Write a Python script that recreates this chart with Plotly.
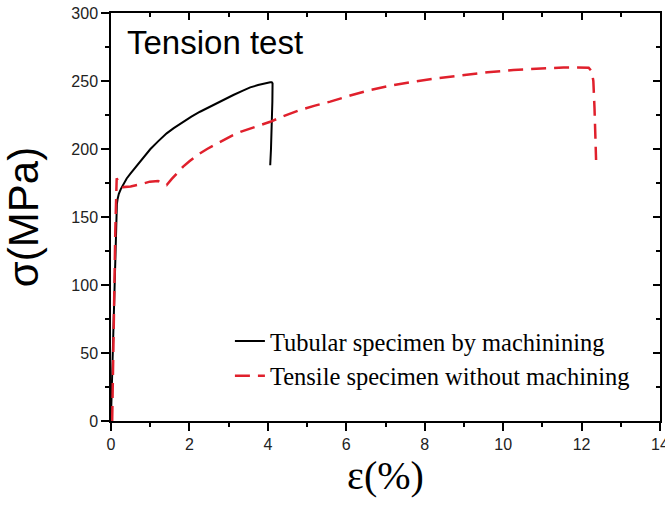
import plotly.graph_objects as go

# Tubular specimen by machining (solid black)
tub_strain = [0.0, 0.03, 0.06, 0.09, 0.12, 0.135, 0.15, 0.17, 0.20, 0.25, 0.30, 0.35, 0.40, 0.50, 0.60,
              0.70, 0.80, 0.90, 1.00, 1.20, 1.42, 1.60, 1.84, 2.05, 2.27, 2.50, 2.70, 2.90,
              3.12, 3.35, 3.55, 3.75, 3.90, 4.00, 4.06, 4.10, 4.12, 4.115, 4.10, 4.08, 4.06]
tub_stress = [3, 35, 75, 115, 148, 155, 159.5, 163.5, 167, 170.5, 173.5, 176, 178.3, 182, 185.5,
              189, 192.5, 196.3, 199.8, 205.6, 211.5, 215.3, 220, 223.8, 227.4, 230.8, 233.6, 236.5,
              239.7, 242.7, 245.3, 247, 248.1, 248.7, 249, 249, 248.3, 235, 215, 200, 188]

# Tensile specimen without machining (red dashed)
ten_strain = [0.03, 0.05, 0.08, 0.11, 0.145, 0.20, 0.31, 0.50, 0.75, 0.99, 1.20, 1.42, 1.55,
              1.70, 1.84, 2.00, 2.20, 2.45, 2.70, 2.90, 3.10, 3.30, 3.55, 3.80, 4.06, 4.40,
              4.82, 5.20, 5.59, 6.10, 6.61, 7.15, 7.71, 8.35, 8.99, 9.60, 10.26, 10.90,
              11.54, 11.90, 12.18, 12.26, 12.30, 12.33, 12.37]
ten_stress = [0, 40, 95, 140, 178.5, 175, 172, 172.5, 174, 176, 176.5, 173.5, 178,
              183, 187, 191, 195.5, 200, 204, 207.2, 210, 212.6, 215, 217.6, 220, 224.2,
              228.7, 231.9, 234.8, 239.3, 243.4, 246.7, 249.5, 252.1, 254.4, 256.4, 258.1, 259.2,
              260, 260, 259.8, 257, 250, 230, 191.9]

x_ticks = [0, 2, 4, 6, 8, 10, 12, 14]
y_ticks = [0, 50, 100, 150, 200, 250, 300]

series_names = ["Tubular specimen by machinining", "Tensile specimen without machining"]
title_text = "Tension test"

fig = go.Figure()
fig.add_trace(go.Scatter(x=tub_strain, y=tub_stress, mode="lines", name=series_names[0],
                         line=dict(color="black", width=2)))
fig.add_trace(go.Scatter(x=ten_strain, y=ten_stress, mode="lines", name=series_names[1],
                         line=dict(color="#e0202c", width=2.5, dash="15px,8px")))
# empty trace so that the mirrored (top/right) axes are drawn
fig.add_trace(go.Scatter(x=[], y=[], xaxis="x2", yaxis="y2", showlegend=False, hoverinfo="skip"))

tickfont = dict(family="Liberation Sans, Arial", size=16, color="#222")
common_x = dict(range=[0, 14], tickvals=x_ticks, showgrid=False, zeroline=False,
                showline=True, linecolor="black", linewidth=1.5, tickcolor="black")
common_y = dict(range=[0, 300], tickvals=y_ticks, showgrid=False, zeroline=False,
                showline=True, linecolor="black", linewidth=1.5, tickcolor="black")

fig.update_layout(
    width=665, height=512,
    margin=dict(l=111, r=5, t=13, b=91),
    paper_bgcolor="white", plot_bgcolor="white",
    xaxis=dict(**common_x, ticks="outside", ticklen=8, tickwidth=1.5,
               minor=dict(dtick=1, ticks="outside", ticklen=4, tickcolor="black", tickwidth=1.5),
               tickfont=tickfont, ticklabeloverflow="allow", automargin="bottom",
               title=dict(text="ε(%)", font=dict(family="Liberation Serif, Times New Roman", size=40, color="black"),
                          standoff=8)),
    yaxis=dict(**common_y, ticks="outside", ticklen=8, tickwidth=1.5,
               minor=dict(dtick=25, ticks="outside", ticklen=4, tickcolor="black", tickwidth=1.5),
               tickfont=tickfont, ticklabeloverflow="allow", automargin="left",
               title=dict(text="σ(MPa)", font=dict(family="Liberation Sans, Arial", size=42, color="black"),
                          standoff=23)),
    xaxis2=dict(**common_x, overlaying="x", side="top", anchor="y", ticks="inside", ticklen=7,
                tickwidth=1.5, showticklabels=False, automargin=False,
                minor=dict(dtick=1, ticks="inside", ticklen=4, tickcolor="black", tickwidth=1.5)),
    yaxis2=dict(**common_y, overlaying="y", side="right", anchor="x", ticks="inside", ticklen=7,
                tickwidth=1.5, showticklabels=False, automargin=False,
                minor=dict(dtick=25, ticks="inside", ticklen=4, tickcolor="black", tickwidth=1.5)),
    showlegend=True,
    legend=dict(x=0.2166, y=0.153, xanchor="left", yanchor="middle",
                bgcolor="rgba(0,0,0,0)", borderwidth=0,
                font=dict(family="Liberation Serif, Times New Roman", size=24.5, color="black")),
    annotations=[dict(text=title_text, xref="paper", yref="paper", x=0.0255, y=0.928,
                      xanchor="left", yanchor="middle", showarrow=False,
                      font=dict(family="Liberation Sans, Arial", size=33, color="black"))],
)

fig.write_html("out.html")
